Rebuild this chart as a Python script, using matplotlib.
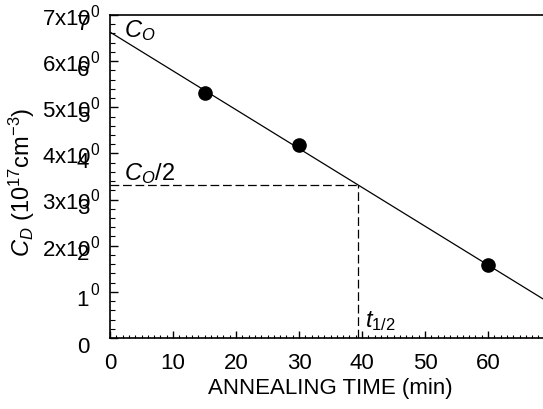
import matplotlib
matplotlib.use("Agg")
import matplotlib.pyplot as plt
import matplotlib.transforms as mtransforms
from matplotlib.ticker import MultipleLocator
import numpy as np

plt.rcParams['font.family'] = ['Liberation Sans', 'DejaVu Sans']
plt.rcParams['mathtext.fontset'] = 'custom'
plt.rcParams['mathtext.rm'] = 'Liberation Sans'
plt.rcParams['mathtext.it'] = 'Liberation Sans:italic'

# measured points
times = [15, 30, 60]
conc = [5.31, 4.18, 1.58]

# fitted line
c0 = 6.63
t_half = 39.4
fit_t = [0, 70]

x_ticks = [0, 10, 20, 30, 40, 50, 60]
y_ticks = [0, 1, 2, 3, 4, 5, 6, 7]
sci_labels = ['', r'$^{0}$', r'2x10$^{0}$', r'3x10$^{0}$', r'4x10$^{0}$',
              r'5x10$^{0}$', r'6x10$^{0}$', r'7x10$^{0}$']

fig = plt.figure(figsize=(5.43, 4.10), dpi=100)
ax = fig.add_axes([110 / 543, 71 / 410, 441 / 543, 323 / 410])

fit_c = [c0 * (1 - t / (2 * t_half)) for t in fit_t]
ax.plot(fit_t, fit_c, color='black', lw=0.9)
ax.plot(times, conc, 'o', color='black', ms=9.5)

ax.plot([0, t_half], [c0 / 2, c0 / 2], color='black', lw=0.9, dashes=(7, 3))
ax.plot([t_half, t_half], [0, c0 / 2], color='black', lw=0.9, dashes=(7, 3))

ax.text(2.3, 6.55, r'$C_O$', fontsize=17)
ax.text(2.3, 3.45, r'$C_O$/2', fontsize=17)
ax.text(40.5, 0.25, r'$t_{1/2}$', fontsize=17)

ax.set_xlim(0, 70)
ax.set_ylim(0, 7)
ax.set_xticks(x_ticks)
ax.xaxis.set_minor_locator(MultipleLocator(1))
ax.set_yticks(y_ticks)
ax.yaxis.set_minor_locator(MultipleLocator(0.2))
ax.tick_params(which='both', direction='in', top=False, right=False)
ax.tick_params(axis='x', which='major', length=5, width=1, labelsize=16, pad=10)
ax.tick_params(axis='x', which='minor', length=2.5, width=0.8)
ax.tick_params(axis='y', which='major', length=6, width=1, labelsize=16, pad=15)
ax.tick_params(axis='y', which='minor', length=3.5, width=0.8)
for s in ax.spines.values():
    s.set_linewidth(1.2)

# plain tick labels sit a little lower than the ticks
shift = mtransforms.ScaledTranslation(0, -4 / 72, fig.dpi_scale_trans)
for lab in ax.get_yticklabels():
    lab.set_transform(lab.get_transform() + shift)

# overlapping scientific labels
trans = mtransforms.blended_transform_factory(ax.transAxes, ax.transData)
trans = trans + mtransforms.ScaledTranslation(-7 / 72, -1 / 72, fig.dpi_scale_trans)
for v, s in zip(y_ticks, sci_labels):
    if s:
        ax.text(0, v, s, transform=trans, ha='right', va='center', fontsize=16)

ax.set_xlabel('ANNEALING TIME (min)', fontsize=16, labelpad=3)
ax.set_ylabel(r'$C_D$ (10$^{17}$cm$^{-3}$)', fontsize=17)
ax.yaxis.set_label_coords(-0.166, 0.486)

fig.savefig('out.png', dpi=100)
